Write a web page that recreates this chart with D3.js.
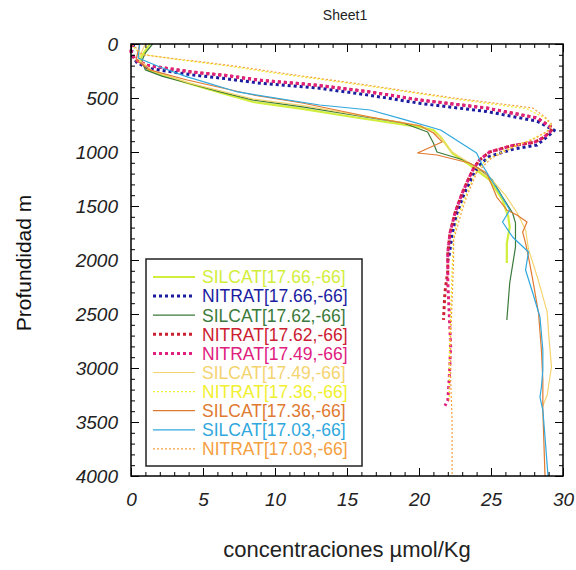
<!DOCTYPE html>
<html>
<head>
<meta charset="utf-8">
<script src="https://cdn.jsdelivr.net/npm/d3@7"></script>
<style>
  body { margin: 0; background: #fff; }
  svg { display: block; font-family: "Liberation Sans", Arial, sans-serif; }
</style>
</head>
<body>
<svg id="chart" width="576" height="570"></svg>
<script>
// each profile: [depth m, concentration µmol/Kg]
const silcat1766 = [[0,1.3],[80,0.9],[150,0.6],[240,1.2],[360,3.9],[450,6.2],[537,8.5],[600,11.9],[676,15.4],[769,20.1],[796,21.0],[861,21.5],[1009,22.3],[1120,23.5],[1259,24.9],[1444,25.8],[1600,26.2],[1694,26.3],[1843,26.1],[2028,26.1]];
const nitrat1766 = [[0,0.2],[90,0.0],[170,0.4],[225,1.2],[285,4.2],[320,6.5],[360,8.8],[410,13.1],[475,16.6],[550,20.1],[625,24.7],[715,28.2],[800,29.4],[860,28.9],[935,28.2],[975,26.5],[1040,24.9],[1110,24.3],[1180,23.9],[1260,23.6],[1400,23.1],[1580,22.6],[1760,22.3],[1950,22.1],[2000,22.0]];
const silcat1762 = [[0,1.5],[83,1.0],[157,0.75],[240,1.0],[300,2.2],[361,3.9],[444,6.2],[519,8.5],[583,11.9],[657,15.4],[731,18.9],[815,20.6],[917,21.0],[1000,21.25],[1074,23.1],[1139,24.0],[1259,25.1],[1417,25.8],[1565,26.5],[1657,26.7],[1880,26.7],[2213,26.3],[2555,26.1]];
const nitrat1762 = [[0,0.1],[70,0.0],[150,0.3],[200,1.2],[259,4.2],[290,6.5],[333,8.8],[380,12.8],[444,16.6],[519,20.1],[593,24.7],[685,28.2],[778,29.3],[815,29.1],[870,28.6],[910,28.0],[940,26.5],[1000,24.9],[1074,24.2],[1150,23.8],[1231,23.5],[1380,23.0],[1565,22.5],[1750,22.15],[1935,22.0],[2100,22.0],[2300,21.8],[2555,21.7]];
const nitrat1749 = [[0,0.1],[70,0.0],[150,0.3],[200,1.2],[259,4.2],[290,6.5],[333,8.8],[380,12.8],[444,16.6],[519,20.1],[593,24.7],[685,28.2],[778,29.2],[815,29.1],[870,28.6],[910,28.0],[940,26.5],[1000,24.9],[1074,24.2],[1150,23.8],[1231,23.5],[1380,23.0],[1565,22.5],[1750,22.15],[1935,22.0],[2200,22.0],[2500,22.1],[2800,22.2],[3100,22.1],[3300,22.0],[3350,21.8]];
const silcat1749 = [[0,1.0],[140,0.5],[250,1.5],[360,4.0],[510,8.5],[570,12.0],[650,15.4],[755,20.1],[850,21.4],[990,22.2],[1110,23.6],[1250,25.0],[1400,26.0],[1560,26.8],[1720,27.4],[1900,27.6],[2150,28.2],[2480,28.9],[2680,29.0],[2990,29.2],[3250,28.9],[3350,28.6]];
const nitrat1736 = [[0,0.0],[90,0.6],[140,3.0],[200,6.5],[280,10.5],[361,15.0],[500,22.0],[600,27.5],[690,28.8],[760,29.2],[820,28.8],[900,27.5],[980,26.0],[1080,24.6],[1200,23.9],[1420,23.2],[1600,22.7],[1800,22.4],[2100,22.3],[2500,22.2],[2900,22.1],[3300,22.1]];
const silcat1736 = [[0,0.6],[148,0.35],[240,1.3],[333,3.9],[472,8.5],[546,11.9],[676,16.6],[759,20.1],[824,21.0],[907,21.6],[1009,19.9],[1028,21.25],[1102,23.5],[1194,24.7],[1417,25.4],[1537,26.1],[1583,26.8],[1648,27.5],[1741,27.2],[1843,27.4],[1972,27.6],[2185,27.9],[2491,28.3],[2833,28.5],[3111,28.6],[3389,28.6],[4000,28.75]];
const silcat1703 = [[0,0.6],[130,0.5],[213,2.0],[300,3.8],[444,7.4],[565,13.1],[611,16.6],[700,19.0],[796,21.5],[1009,24.0],[1120,24.4],[1231,24.9],[1380,25.6],[1537,26.3],[1648,25.8],[1787,26.5],[1926,27.6],[2093,27.4],[2306,27.9],[2528,28.4],[2833,28.6],[3019,28.6],[3176,28.5],[3269,28.4],[3389,28.6],[3639,28.75],[4000,28.96]];
const nitrat1703 = [[0,0.1],[100,0.8],[150,3.9],[204,7.2],[280,11.0],[361,15.4],[500,22.4],[593,27.9],[676,28.75],[740,29.2],[800,29.0],[880,28.0],[960,26.5],[1060,25.0],[1194,24.0],[1417,23.3],[1537,23.0],[1815,22.4],[2000,22.4],[2370,22.3],[2700,22.2],[3111,22.2],[3500,22.3],[4000,22.3]];

const seriesNames = ["SILCAT[17.66,-66]", "NITRAT[17.66,-66]", "SILCAT[17.62,-66]", "NITRAT[17.62,-66]", "NITRAT[17.49,-66]",
  "SILCAT[17.49,-66]", "NITRAT[17.36,-66]", "SILCAT[17.36,-66]", "SILCAT[17.03,-66]", "NITRAT[17.03,-66]"];
const seriesData = [silcat1766, nitrat1766, silcat1762, nitrat1762, nitrat1749, silcat1749, nitrat1736, silcat1736, silcat1703, nitrat1703];

// line look per series
const styles = [
  { color: "#d2ee3c", width: 2.2, dash: null },
  { color: "#1c1ca0", width: 3, dash: "3,3" },
  { color: "#3a7a3a", width: 1.2, dash: null },
  { color: "#cc2030", width: 3, dash: "3,3" },
  { color: "#e0207e", width: 3, dash: "3,3" },
  { color: "#f5d470", width: 1.2, dash: null },
  { color: "#f0f030", width: 1.2, dash: "2,2" },
  { color: "#e07a30", width: 1.2, dash: null },
  { color: "#30a8dd", width: 1.2, dash: null },
  { color: "#f5a040", width: 1.2, dash: "2,2" }
];

const svg = d3.select("#chart");
const margin = { top: 44, left: 131 };
const innerW = 432, innerH = 432;

const x = d3.scaleLinear().domain([0, 30]).range([0, innerW]);
const y = d3.scaleLinear().domain([0, 4000]).range([0, innerH]);

const g = svg.append("g").attr("transform", `translate(${margin.left},${margin.top})`);

svg.append("text")
  .attr("x", 345).attr("y", 20)
  .attr("text-anchor", "middle")
  .attr("font-size", "14px")
  .attr("fill", "#222")
  .text("Sheet1");

// curves
const line = d3.line().x(d => x(d[1])).y(d => y(d[0]));
seriesData.forEach((data, i) => {
  const s = styles[i];
  g.append("path")
    .datum(data)
    .attr("d", line)
    .attr("fill", "none")
    .attr("stroke", s.color)
    .attr("stroke-width", s.width)
    .attr("stroke-dasharray", s.dash)
    .attr("stroke-linejoin", "round");
});

// ticks pointing inward on all four sides
const tickStyle = sel => {
  sel.select(".domain").remove();
  sel.selectAll("line").attr("stroke", "#000").attr("stroke-width", 1);
};
g.append("g").attr("transform", `translate(0,${innerH})`)
  .call(d3.axisBottom(x).ticks(30).tickSize(-4).tickFormat("")).call(tickStyle);
g.append("g")
  .call(d3.axisTop(x).ticks(30).tickSize(-4).tickFormat("")).call(tickStyle);
g.append("g")
  .call(d3.axisLeft(y).ticks(40).tickSize(-4).tickFormat("")).call(tickStyle);
g.append("g").attr("transform", `translate(${innerW},0)`)
  .call(d3.axisRight(y).ticks(40).tickSize(-4).tickFormat("")).call(tickStyle);

const xAxis = g.append("g").attr("transform", `translate(0,${innerH})`)
  .call(d3.axisBottom(x).tickValues(d3.range(0, 31, 5)).tickSize(-8).tickPadding(17))
  .call(tickStyle);
g.append("g").call(d3.axisTop(x).tickValues(d3.range(0, 31, 5)).tickSize(-8).tickFormat("")).call(tickStyle);
const yAxis = g.append("g")
  .call(d3.axisLeft(y).tickValues(d3.range(0, 4001, 500)).tickFormat(d3.format("d")).tickSize(-8).tickPadding(13))
  .call(tickStyle);
g.append("g").attr("transform", `translate(${innerW},0)`)
  .call(d3.axisRight(y).tickValues(d3.range(0, 4001, 500)).tickSize(-8).tickFormat("")).call(tickStyle);

[xAxis, yAxis].forEach(a => a.selectAll("text")
  .attr("font-size", "19px")
  .attr("font-style", "italic")
  .attr("font-family", "'Liberation Sans', Arial, sans-serif")
  .attr("fill", "#222"));

g.append("rect")
  .attr("width", innerW).attr("height", innerH)
  .attr("fill", "none").attr("stroke", "#000").attr("stroke-width", 1.5);

// legend
const legend = svg.append("g").attr("transform", "translate(146,259)");
legend.append("rect")
  .attr("width", 216).attr("height", 207)
  .attr("fill", "#fff").attr("stroke", "#222").attr("stroke-width", 1.5);
seriesNames.forEach((name, i) => {
  const s = styles[i];
  const ly = 18 + i * 19.1;
  legend.append("line")
    .attr("x1", 7).attr("x2", 49).attr("y1", ly).attr("y2", ly)
    .attr("stroke", s.color).attr("stroke-width", s.width)
    .attr("stroke-dasharray", s.dash);
  legend.append("text")
    .attr("x", 56).attr("y", ly).attr("dy", "0.36em")
    .attr("font-size", "17.5px")
    .attr("fill", s.color)
    .text(name);
});

svg.append("text")
  .attr("transform", "translate(31,263) rotate(-90)")
  .attr("text-anchor", "middle")
  .attr("font-size", "21px")
  .attr("fill", "#111")
  .text("Profundidad m");

svg.append("text")
  .attr("x", 347).attr("y", 557)
  .attr("text-anchor", "middle")
  .attr("font-size", "22px")
  .attr("fill", "#222")
  .text("concentraciones µmol/Kg");
</script>
</body>
</html>
